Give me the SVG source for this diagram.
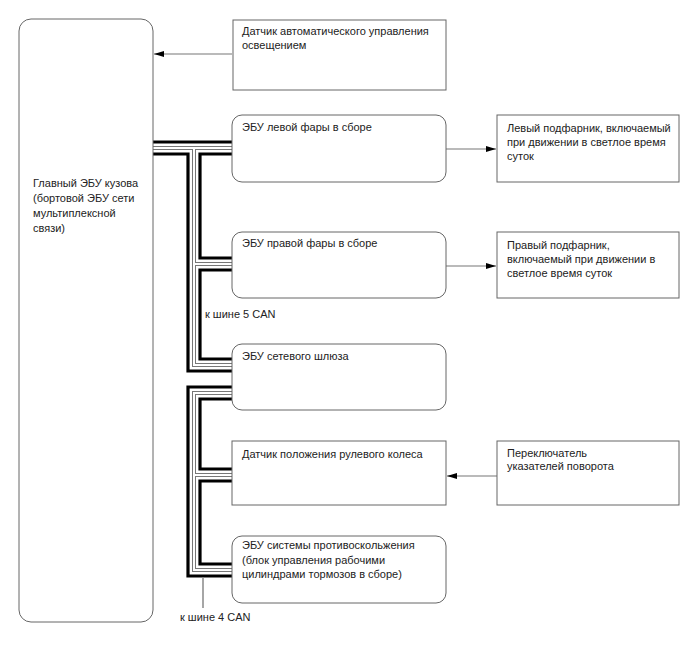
<svg xmlns="http://www.w3.org/2000/svg" width="688" height="658" viewBox="0 0 688 658">
<style>
.box{fill:#fff;stroke:#666;stroke-width:1}
.t{font-family:"Liberation Sans",Arial,sans-serif;font-size:11px;fill:#222}
.thick{fill:none;stroke:#000;stroke-width:3.2}
.midg{fill:none;stroke:#777;stroke-width:4}
.midw{fill:none;stroke:#fff;stroke-width:2}
.arr{fill:none;stroke:#777;stroke-width:1.2;marker-end:url(#ah)}
</style>
<defs>
<marker id="ah" viewBox="0 0 10 6" refX="10" refY="3" markerWidth="10" markerHeight="6" markerUnits="userSpaceOnUse" orient="auto">
<path d="M0,0 L10,3 L0,6 z" fill="#000"/>
</marker>
</defs>
<rect width="688" height="658" fill="#fff"/>
<g id="connectors">
<!-- CAN 5 bus -->
<path class="thick" d="M153,142 H232"/>
<path class="thick" d="M153,154 H188 V371 H232"/>
<path class="thick" d="M232,154 H200 V258 H232"/>
<path class="thick" d="M232,270 H200 V359 H232"/>
<path class="midg" d="M153,148 H232 M194,148 V365 H232 M194,264 H232"/>
<path class="midw" d="M153,148 H232 M194,148 V365 H232 M194,264 H232"/>
<!-- CAN 4 bus -->
<path class="thick" d="M232,387 H188 V576 H232"/>
<path class="thick" d="M232,399 H200 V469 H232"/>
<path class="thick" d="M232,481 H200 V564 H232"/>
<path class="midg" d="M232,393 H194 V570 H232 M194,475 H232"/>
<path class="midw" d="M232,393 H194 V570 H232 M194,475 H232"/>
<path d="M203,577 V608" stroke="#888" stroke-width="1.5" fill="none"/>
<!-- arrows -->
<path class="arr" d="M232,54 H154"/>
<path class="arr" d="M446,149 H496"/>
<path class="arr" d="M446,266 H496"/>
<path class="arr" d="M497,476 H447"/>
<text class="t" x="205" y="318">к шине 5 CAN</text>
<text class="t" x="180" y="621">к шине 4 CAN</text>
</g>
<g id="main">
<rect class="box" x="19" y="19" width="134" height="603" rx="12"/>
<text class="t" x="33" y="187">Главный ЭБУ кузова</text>
<text class="t" x="33" y="202">(бортовой ЭБУ сети</text>
<text class="t" x="33" y="217">мультиплексной</text>
<text class="t" x="33" y="232">связи)</text>
</g>
<g id="sensor-light">
<rect class="box" x="233" y="20" width="213" height="70"/>
<text class="t" x="242" y="35">Датчик автоматического управления</text>
<text class="t" x="242" y="49">освещением</text>
</g>
<g id="ecu-left">
<rect class="box" x="232" y="115" width="214" height="67" rx="10"/>
<text class="t" x="242" y="131">ЭБУ левой фары в сборе</text>
</g>
<g id="drl-left">
<rect class="box" x="497" y="115" width="182" height="67"/>
<text class="t" x="507" y="132">Левый подфарник, включаемый</text>
<text class="t" x="507" y="146">при движении в светлое время</text>
<text class="t" x="507" y="160">суток</text>
</g>
<g id="ecu-right">
<rect class="box" x="232" y="232" width="214" height="66" rx="10"/>
<text class="t" x="242" y="247">ЭБУ правой фары в сборе</text>
</g>
<g id="drl-right">
<rect class="box" x="497" y="232" width="182" height="66"/>
<text class="t" x="507" y="249">Правый подфарник,</text>
<text class="t" x="507" y="263">включаемый при движении в</text>
<text class="t" x="507" y="277">светлое время суток</text>
</g>
<g id="gateway">
<rect class="box" x="232" y="344" width="214" height="66" rx="10"/>
<text class="t" x="242" y="360">ЭБУ сетевого шлюза</text>
</g>
<g id="steering">
<rect class="box" x="232" y="441" width="214" height="64"/>
<text class="t" x="242" y="458">Датчик положения рулевого колеса</text>
</g>
<g id="turn-switch">
<rect class="box" x="497" y="441" width="182" height="64"/>
<text class="t" x="507" y="457">Переключатель</text>
<text class="t" x="507" y="470">указателей поворота</text>
</g>
<g id="skid">
<rect class="box" x="232" y="536" width="214" height="67" rx="10"/>
<text class="t" x="242" y="549">ЭБУ системы противоскольжения</text>
<text class="t" x="242" y="564">(блок управления рабочими</text>
<text class="t" x="242" y="578">цилиндрами тормозов в сборе)</text>
</g>
</svg>
